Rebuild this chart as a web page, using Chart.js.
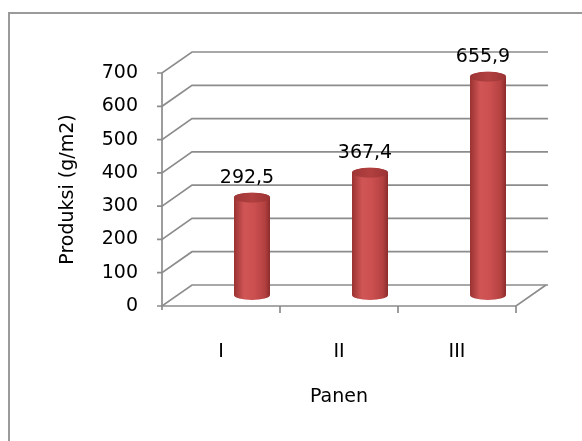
<!DOCTYPE html>
<html>
<head>
<meta charset="utf-8">
<script src="https://cdn.jsdelivr.net/npm/chart.js@4/dist/chart.umd.min.js"></script>
<style>
  html, body { margin: 0; padding: 0; background: #fff; }
  #wrap { width: 582px; height: 441px; }
</style>
</head>
<body>
<div id="wrap"><canvas id="c" width="582" height="441"></canvas></div>
<script>
// Harvest production per panen
const categories = ['I', 'II', 'III'];
const produksi = [292.5, 367.4, 655.9];
const valueLabels = ['292,5', '367,4', '655,9'];
const yTickValues = [0, 100, 200, 300, 400, 500, 600, 700];
const yTitle = 'Produksi (g/m2)';
const xTitle = 'Panen';

// 3D look: depth of the floor/back wall and where the cylinders stand
const DEPTH_X = 30, DEPTH_Y = -21;
const BAR_DX = 31, BAR_DY = -11;
const CAP_RY = 5;
const LINE = '#8c8c8c';
const FONT = 'DejaVu Sans';

const threeD = {
  id: 'threeD',
  beforeDraw(chart) {
    const ctx = chart.ctx;
    ctx.save();
    ctx.strokeStyle = '#9a9a9a';
    ctx.lineWidth = 2;
    ctx.beginPath();
    ctx.moveTo(9, 441);
    ctx.lineTo(9, 13);
    ctx.lineTo(582, 13);
    ctx.stroke();
    ctx.restore();
  },
  beforeDatasetsDraw(chart) {
    const ctx = chart.ctx, y = chart.scales.y;
    const L = chart.chartArea.left, R = chart.chartArea.right, B = chart.chartArea.bottom;
    ctx.save();
    ctx.strokeStyle = LINE;
    ctx.lineWidth = 1.7;
    // back wall gridlines with the diagonal from the front axis
    yTickValues.forEach(v => {
      const py = y.getPixelForValue(v);
      ctx.beginPath();
      ctx.moveTo(L - 5, py);
      ctx.lineTo(L, py);
      ctx.lineTo(L + DEPTH_X, py + DEPTH_Y);
      ctx.lineTo(R + DEPTH_X + 2, py + DEPTH_Y);
      ctx.stroke();
    });
    // front axes and floor edge
    ctx.beginPath();
    ctx.moveTo(L, y.getPixelForValue(700));
    ctx.lineTo(L, B + 4);
    ctx.moveTo(L, B);
    ctx.lineTo(R, B);
    ctx.lineTo(R + DEPTH_X, B + DEPTH_Y);
    ctx.stroke();
    // category tick marks on the boundaries
    const step = (R - L) / categories.length;
    for (let i = 1; i <= categories.length; i++) {
      const px = L + step * i;
      ctx.beginPath();
      ctx.moveTo(px, B);
      ctx.lineTo(px, B + 7);
      ctx.stroke();
    }
    ctx.restore();
  },
  afterDatasetsDraw(chart) {
    const ctx = chart.ctx;
    const meta = chart.getDatasetMeta(0);
    meta.data.forEach((bar, i) => {
      const cx = bar.x + BAR_DX;
      const top = bar.y + BAR_DY;
      const base = bar.base + BAR_DY;
      const rx = bar.width / 2;
      ctx.save();
      const g = ctx.createLinearGradient(cx - rx, 0, cx + rx, 0);
      g.addColorStop(0, '#9a3232');
      g.addColorStop(0.28, '#d05555');
      g.addColorStop(0.55, '#cc5050');
      g.addColorStop(0.85, '#b54141');
      g.addColorStop(1, '#8c2c2c');
      ctx.fillStyle = g;
      ctx.beginPath();
      ctx.moveTo(cx - rx, top);
      ctx.lineTo(cx - rx, base);
      ctx.ellipse(cx, base, rx, CAP_RY, 0, Math.PI, 0, true);
      ctx.lineTo(cx + rx, top);
      ctx.ellipse(cx, top, rx, CAP_RY, 0, 0, Math.PI, true);
      ctx.closePath();
      ctx.fill();
      const gc = ctx.createLinearGradient(cx - rx, 0, cx + rx, 0);
      gc.addColorStop(0, '#9e3636');
      gc.addColorStop(0.5, '#b24040');
      gc.addColorStop(1, '#9c3434');
      ctx.fillStyle = gc;
      ctx.beginPath();
      ctx.ellipse(cx, top, rx, CAP_RY, 0, 0, Math.PI * 2);
      ctx.fill();
      // value label above the cylinder
      ctx.fillStyle = '#000';
      ctx.font = '19px "' + FONT + '"';
      ctx.textAlign = 'center';
      ctx.textBaseline = 'middle';
      ctx.fillText(valueLabels[i], cx - 5, top - 20);
      ctx.restore();
    });
  }
};

new Chart(document.getElementById('c'), {
  type: 'bar',
  data: {
    labels: categories,
    datasets: [{
      data: produksi,
      backgroundColor: 'rgba(0,0,0,0)',
      borderWidth: 0,
      barThickness: 36
    }]
  },
  options: {
    responsive: false,
    animation: false,
    events: [],
    layout: { padding: { top: 73, right: 66, left: 0, bottom: 0 } },
    plugins: { legend: { display: false }, tooltip: { enabled: false } },
    scales: {
      x: {
        grid: { display: false, drawTicks: false },
        border: { display: false },
        ticks: { color: '#000', font: { family: FONT, size: 19 }, padding: 35 },
        title: { display: true, text: xTitle, color: '#000', font: { family: FONT, size: 19 }, padding: { top: 0, bottom: 33 } },
        afterFit(s) { s.height = 441 - 306; }
      },
      y: {
        min: 0, max: 700,
        afterBuildTicks(s) { s.ticks = yTickValues.map(v => ({ value: v })); },
        grid: { display: false, drawTicks: false },
        border: { display: false },
        ticks: { color: '#000', font: { family: FONT, size: 19 }, padding: 24 },
        title: { display: true, text: yTitle, color: '#000', font: { family: FONT, size: 19 }, padding: { top: 57, bottom: 0 } },
        afterFit(s) { s.width = 162; }
      }
    }
  },
  plugins: [threeD]
});
</script>
</body>
</html>
